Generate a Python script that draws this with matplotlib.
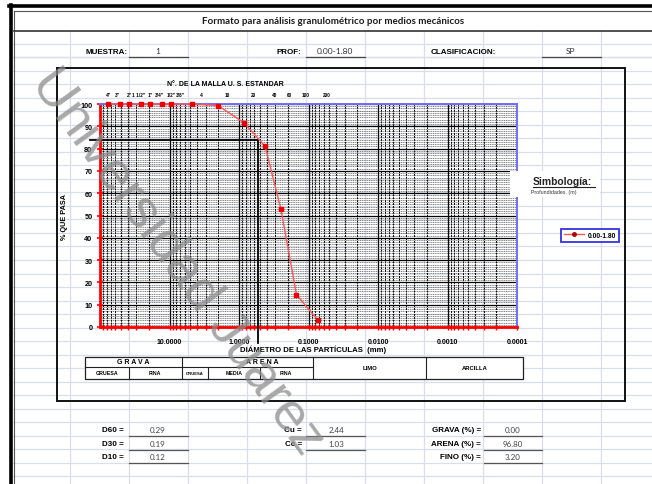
import matplotlib
matplotlib.use('Agg')
import matplotlib.pyplot as plt
import numpy as np
import matplotlib.transforms as mtransforms
from matplotlib.ticker import FixedLocator, NullFormatter, FuncFormatter, LogLocator, MultipleLocator

# ---------------- data ----------------
sieve_labels = ['4"', '3"', '2"', '1 1/2"', '1"', '3/4"', '1/2"', '3/8"', '4', '10', '20', '40', '60', '100', '200']
sieve_mm = [101.6, 76.2, 50.8, 38.1, 25.4, 19.05, 12.7, 9.525, 4.76, 2.0, 0.84, 0.42, 0.25, 0.149, 0.074]
plot_mm = [76.2, 50.8, 38.1, 25.4, 19.05, 12.7, 9.525, 4.76, 2.0, 0.84, 0.42, 0.25, 0.149, 0.074]
pct_passing = [100, 100, 100, 100, 100, 100, 100, 100, 99.3, 91.5, 81.0, 53.0, 14.5, 3.2]
series_name = '0.00-1.80'
x_ticks = [10, 1, 0.1, 0.01, 0.001, 0.0001]
y_ticks = [0, 10, 20, 30, 40, 50, 60, 70, 80, 90, 100]
ref_d = 0.535       # vertical reference line (mm)
ref_pct = 84.0      # horizontal reference line (%)
ref_left_mm = 139.0
ref_bottom_pct = -7.0

muestra = '1'
prof = '0.00-1.80'
clasif = 'SP'
d_labels = ['D60 =', 'D30 =', 'D10 =']
d_values = ['0.29', '0.19', '0.12']
c_labels = ['Cu =', 'Cc =']
c_values = ['2.44', '1.03']
f_labels = ['GRAVA (%) =', 'ARENA (%) =', 'FINO (%) =']
f_values = ['0.00', '96.80', '3.20']

# ---------------- figure ----------------
W, H = 652, 485
fig = plt.figure(figsize=(W / 100, H / 100), dpi=100)
fig.patch.set_facecolor('white')

bg = fig.add_axes([0, 0, 1, 1], zorder=0)
bg.set_xlim(0, W)
bg.set_ylim(H, 0)
bg.axis('off')

BOLD = ['Liberation Sans', 'DejaVu Sans']
LIGHT = ['Lato', 'DejaVu Sans']

# spreadsheet grid
gridc = '#d9dfea'
col_x = 70 + 59 * np.arange(11)
for cx in col_x:
    bg.plot([cx, cx], [32, H], color=gridc, lw=0.9, zorder=0)
row_y = 44.5 + 13.53 * np.arange(35)
for ry in row_y:
    bg.plot([13, W], [ry, ry], color=gridc, lw=0.9, zorder=0)
bg.plot([13, W], [58, 58], color=gridc, lw=0.9, zorder=0)

# outer frame
bg.plot([9, W], [7, 7], color='black', lw=2.6, zorder=3)
bg.plot([11, 11], [6, H], color='black', lw=2.6, zorder=3)
bg.plot([14, W], [11.5, 11.5], color='#555555', lw=0.8, zorder=3)
bg.plot([14, 14], [11.5, H], color='#555555', lw=0.8, zorder=3)
bg.plot([14, W], [32, 32], color='#333333', lw=1.2, zorder=3)

bg.text(333, 22, 'Formato para análisis granulométrico por medios mecánicos',
        ha='center', va='center', fontsize=7.0, family=LIGHT, weight='bold', color='#1a1a1a')

# header row
bg.text(127, 52, 'MUESTRA:', ha='right', va='center', fontsize=5.8, weight='bold', family=BOLD)
bg.text(158, 52, muestra, ha='center', va='center', fontsize=6, family=LIGHT, color='#333333')
bg.plot([129, 188], [58, 58], color='#444444', lw=0.9)
bg.text(301, 52, 'PROF:', ha='right', va='center', fontsize=5.8, weight='bold', family=BOLD)
bg.text(335, 52, prof, ha='center', va='center', fontsize=6, family=LIGHT, color='#333333')
bg.plot([306, 365], [58, 58], color='#444444', lw=0.9)
bg.text(431, 52, 'CLASIFICACION:', ha='left', va='center', fontsize=5.8, weight='bold', family=BOLD)
bg.text(571, 52, clasif, ha='center', va='center', fontsize=6, family=LIGHT, color='#333333')
bg.plot([542, 601], [58, 58], color='#444444', lw=0.9)

# chart box
bg.add_patch(plt.Rectangle((57, 69), 568, 333, fill=False, ec='#111111', lw=1.4, zorder=3))

# bottom results
rows_y = [431, 444.5, 458]
for i, (lab, val) in enumerate(zip(d_labels, d_values)):
    bg.text(124, rows_y[i], lab, ha='right', va='center', fontsize=5.8, weight='bold', family=BOLD)
    bg.text(158, rows_y[i], val, ha='center', va='center', fontsize=5.8, family=LIGHT, color='#444444')
    bg.plot([129, 188], [rows_y[i] + 6, rows_y[i] + 6], color='#555555', lw=0.9)
for i, (lab, val) in enumerate(zip(c_labels, c_values)):
    bg.text(302, rows_y[i], lab, ha='right', va='center', fontsize=5.8, weight='bold', family=BOLD)
    bg.text(336, rows_y[i], val, ha='center', va='center', fontsize=5.8, family=LIGHT, color='#444444')
    bg.plot([306, 365], [rows_y[i] + 6, rows_y[i] + 6], color='#555555', lw=0.9)
for i, (lab, val) in enumerate(zip(f_labels, f_values)):
    bg.text(481, rows_y[i], lab, ha='right', va='center', fontsize=5.8, weight='bold', family=BOLD)
    bg.text(513, rows_y[i], val, ha='center', va='center', fontsize=5.8, family=LIGHT, color='#444444')
    bg.plot([484, 542], [rows_y[i] + 6, rows_y[i] + 6], color='#555555', lw=0.9)

# classification table
tl, tr, tt, tm, tb = 85, 523, 358, 368, 380
bg.add_patch(plt.Rectangle((tl, tt), tr - tl, tb - tt, fc='white', ec='#222222', lw=0.9, zorder=2))
bg.plot([tl, 313], [tm, tm], color='#222222', lw=0.8, zorder=3)
for vx in [182, 313, 426]:
    bg.plot([vx, vx], [tt, tb], color='#222222', lw=0.8, zorder=3)
for vx in [129, 208, 260]:
    bg.plot([vx, vx], [tm, tb], color='#222222', lw=0.8, zorder=3)
bg.text(133, 363, 'G R A V A', ha='center', va='center', fontsize=5, weight='bold', family=BOLD, zorder=4)
bg.text(262, 363, 'A R E N A', ha='center', va='center', fontsize=5, weight='bold', family=BOLD, zorder=4)
bg.text(370, 368.5, 'LIMO', ha='center', va='center', fontsize=4.2, weight='bold', family=BOLD, zorder=4)
bg.text(475, 368.5, 'ARCILLA', ha='center', va='center', fontsize=4.2, weight='bold', family=BOLD, zorder=4)
for cx, lab, fs in [(107, 'GRUESA', 3.8), (155, 'FINA', 3.8), (195, 'GRUESA', 3.0),
                    (234, 'MEDIA', 3.8), (286, 'FINA', 3.8)]:
    bg.text(cx, 374, lab, ha='center', va='center', fontsize=fs, weight='bold', family=BOLD, zorder=4)

# ---------------- plot axes ----------------
ax = fig.add_axes([100 / W, 1 - 328 / H, 417 / W, 223 / H], zorder=2)
ax.patch.set_alpha(0)
ax.set_xscale('log')
ax.set_xlim(100, 0.0001)
ax.set_ylim(0, 100)

# grid
ax.xaxis.set_major_locator(FixedLocator(x_ticks))
ax.xaxis.set_minor_locator(LogLocator(base=10, subs=np.arange(2, 10)))
ax.xaxis.set_minor_formatter(NullFormatter())
ax.xaxis.set_major_formatter(FuncFormatter(lambda v, p: f'{v:.4f}'))
ax.yaxis.set_major_locator(FixedLocator(y_ticks))
ax.yaxis.set_minor_locator(MultipleLocator(1))
ax.grid(which='major', axis='both', color='black', lw=0.9, ls='-')
ax.grid(which='minor', axis='x', color='black', lw=0.7, ls=(0, (2, 1)))
ax.grid(which='minor', axis='y', color='#222222', lw=0.4, ls=(0, (2, 1.2)))
ax.set_axisbelow(True)

for s in ['left', 'bottom']:
    ax.spines[s].set_color('red')
    ax.spines[s].set_linewidth(2.0)
for s in ['top', 'right']:
    ax.spines[s].set_color('#6f6fff')
    ax.spines[s].set_linewidth(1.4)

ax.tick_params(axis='y', which='major', direction='inout', length=5, width=1.2, color='red',
               labelsize=5.2, pad=3)
ax.tick_params(axis='y', which='minor', length=0)
ax.tick_params(axis='x', which='both', direction='inout', length=4, width=1.0, color='red',
               labelsize=5, pad=6)
for lab in ax.get_xticklabels() + ax.get_yticklabels():
    lab.set_fontweight('bold')
    lab.set_family(BOLD)

line, = ax.plot(plot_mm, pct_passing, color='#ff5555', lw=1.0, marker='s', ms=3.2,
                mfc='#ee0000', mec='#ee0000', zorder=5, clip_on=False, label=series_name)

# reference lines
ax.plot([ref_left_mm, ref_d], [ref_pct, ref_pct], color='black', lw=1.3, clip_on=False, zorder=4)
ax.plot([ref_d, ref_d], [ref_pct, ref_bottom_pct], color='black', lw=1.3, clip_on=False, zorder=4)

ax.set_ylabel('% QUE PASA', fontsize=5.2, weight='bold', family=BOLD, labelpad=9)
ax.set_xlabel('DIÁMETRO DE LAS PARTÍCULAS  (mm)', fontsize=5.6, weight='bold', family=BOLD, labelpad=0)
ax.xaxis.set_label_coords(0.51, -0.078)

# top sieve labels
trans = mtransforms.blended_transform_factory(ax.transData, ax.transAxes)
shift = mtransforms.ScaledTranslation(9 / 100, 0, fig.dpi_scale_trans)
for mm, lab in zip(sieve_mm, sieve_labels):
    ax.text(mm, 1.03, lab, transform=trans + shift, ha='center', va='bottom', fontsize=3.4,
            weight='bold', family=BOLD, clip_on=False)
ax.text(0.30, 1.075, 'N°. DE LA MALLA U. S. ESTANDAR', transform=ax.transAxes, ha='center',
        va='bottom', fontsize=5, weight='bold', family=BOLD)

# ---------------- overlay ----------------
ov = fig.add_axes([0, 0, 1, 1], zorder=5)
ov.set_xlim(0, W)
ov.set_ylim(H, 0)
ov.axis('off')
ov.patch.set_alpha(0)
ov.add_patch(plt.Rectangle((510, 172), 90, 26, fc='white', ec='none'))
ov.text(533, 182, 'Simbología:', ha='left', va='center', fontsize=7.4, weight='bold', family=BOLD,
        color='#222222')
ov.plot([533, 595], [187.5, 187.5], color='#222222', lw=0.8)
ov.text(531, 192.5, 'Profundidades, (m)', ha='left', va='center', fontsize=3.8, family=BOLD,
        color='#333333')

leg = ax.legend(handles=[line], loc='center', bbox_to_anchor=(590 / W, 1 - 236 / H),
                bbox_transform=fig.transFigure, fontsize=4.8, frameon=True, fancybox=False,
                handlelength=3.0, borderpad=0.45, handletextpad=0.5, borderaxespad=0)
leg.get_frame().set_edgecolor('#0000dd')
leg.get_frame().set_linewidth(1.3)
for t in leg.get_texts():
    t.set_fontweight('bold')
    t.set_family(BOLD)
for h in leg.legend_handles:
    h.set_marker('o')
    h.set_markersize(2.5)
    h.set_markerfacecolor('#aa0000')
    h.set_markeredgecolor('#aa0000')

ov.text(178, 262, 'Universidad Juarez', ha='center', va='center', rotation=-54,
        rotation_mode='anchor', fontsize=39, color='#8c8c8c', alpha=0.75, family=['Liberation Sans'])

fig.savefig('out.png', dpi=100)
